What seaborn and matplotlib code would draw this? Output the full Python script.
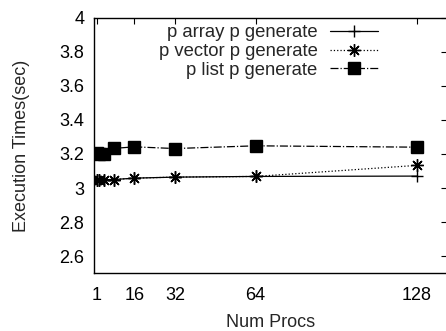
import matplotlib
matplotlib.use("Agg")
import matplotlib.pyplot as plt
import seaborn as sns
import pandas as pd

procs = [1, 2, 4, 8, 16, 32, 64, 128]
array_times = [3.047, 3.048, 3.049, 3.050, 3.058, 3.064, 3.068, 3.070]
vector_times = [3.047, 3.049, 3.050, 3.050, 3.058, 3.064, 3.068, 3.133]
list_times = [3.208, 3.200, 3.197, 3.233, 3.242, 3.232, 3.248, 3.240]
labels = ["p array p generate", "p vector p generate", "p list p generate"]
xticks = [1, 16, 32, 64, 128]
yticks = [2.6, 2.8, 3.0, 3.2, 3.4, 3.6, 3.8, 4.0]
ytick_labels = ["2.6", "2.8", "3", "3.2", "3.4", "3.6", "3.8", "4"]

sns.set_style("white")
plt.rcParams['font.family'] = ['Liberation Sans', 'DejaVu Sans']

fig = plt.figure(figsize=(4.46, 3.31), dpi=100)
ax = fig.add_axes([0.211, 0.175, 0.792, 0.771])

series = [
    (array_times, labels[0], '-', '+', 9, 'black'),
    (vector_times, labels[1], ':', (8, 2, 0), 9, 'black'),
    (list_times, labels[2], '-.', 's', 8, 'black'),
]
for vals, lab, ls, mk, ms, col in series:
    df = pd.DataFrame({"procs": procs, "t": vals})
    sns.lineplot(data=df, x="procs", y="t", ax=ax, label=lab, color=col,
                 linestyle=ls, marker=mk, markersize=ms, linewidth=0.9,
                 markeredgewidth=1.0, markeredgecolor=col, markerfacecolor=col,
                 sort=False, estimator=None)

ax.set_xlim(0, 140)
ax.set_ylim(2.5, 4.0)
ax.set_xticks(xticks)
ax.set_xticklabels([str(v) for v in xticks])
ax.set_yticks(yticks)
ax.set_yticklabels(ytick_labels)
ax.tick_params(direction='in', length=4, width=0.8, top=True, right=True,
               labelsize=13, colors='black')
ax.tick_params(axis='y', pad=7)
ax.tick_params(axis='x', pad=10)
for s in ax.spines.values():
    s.set_color('black')
    s.set_linewidth(1.0)
    s.set_visible(True)

ax.set_xlabel("Num Procs", fontsize=13, labelpad=7)
ax.set_ylabel("Execution Times(sec)", fontsize=13, labelpad=21)

leg = ax.legend(loc='upper right', bbox_to_anchor=(0.805, 0.975), frameon=False,
                markerfirst=False, fontsize=13.3, handlelength=2.6,
                handletextpad=0.7, labelspacing=0.1, borderaxespad=0.0,
                borderpad=0.0)

fig.savefig("out.png", dpi=100)
